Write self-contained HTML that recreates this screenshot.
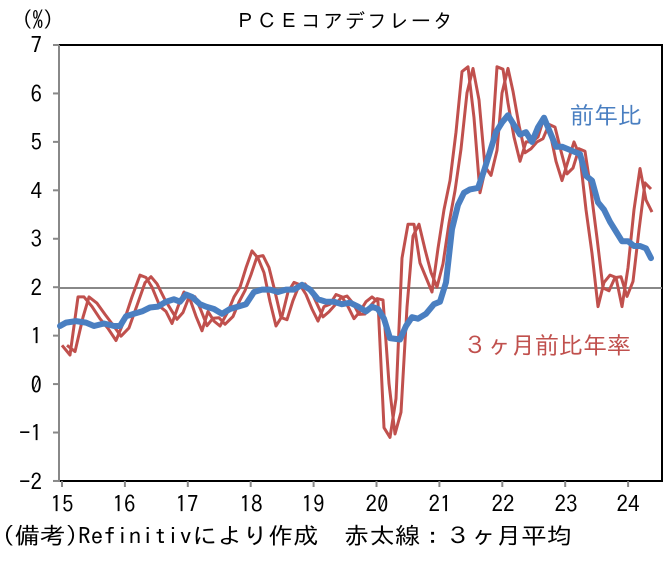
<!DOCTYPE html>
<html><head><meta charset="utf-8"><style>
html,body{margin:0;padding:0;background:#fff;}
svg text{font-family:"IPAGothic","Noto Sans CJK JP",sans-serif;}
</style></head><body>
<svg id="s" width="672" height="559" xmlns="http://www.w3.org/2000/svg">
<rect width="672" height="559" fill="#fff"/>
<text x="22" y="27" font-size="21" fill="#000">(%)</text>
<text x="345" y="28" font-size="20" text-anchor="middle" fill="#000" letter-spacing="2">ＰＣＥコアデフレータ</text>
<g font-size="23" fill="#000" text-anchor="end">
<text x="42" y="53">7</text><text x="42" y="102">6</text><text x="42" y="150">5</text>
<text x="42" y="199">4</text><text x="42" y="247">3</text><text x="42" y="296">2</text>
<text x="42" y="344">1</text><text x="42" y="393">0</text><text x="42" y="441">-1</text>
<text x="42" y="490">-2</text>
</g>
<g font-size="23" fill="#000" text-anchor="middle">
<text x="62" y="512">15</text><text x="124" y="512">16</text><text x="187" y="512">17</text>
<text x="251" y="512">18</text><text x="313" y="512">19</text><text x="377" y="512">20</text>
<text x="440" y="512">21</text><text x="503" y="512">22</text><text x="566" y="512">23</text>
<text x="628" y="512">24</text>
</g>
<rect x="59" y="45" width="603" height="436" fill="none" stroke="#000" stroke-width="2"/>
<line x1="60" y1="288" x2="662" y2="288" stroke="#888" stroke-width="2"/>
<line x1="59" y1="45" x2="59" y2="482" stroke="#888" stroke-width="2"/>
<g id="ticks" stroke="#888" stroke-width="2"></g>
<g id="lines"></g>
<text x="570" y="124" font-size="24" fill="#4a7fc1">前年比</text>
<text x="463" y="354" font-size="24" fill="#c0504d">３ヶ月前比年率</text>
<text x="2" y="544" font-size="23" fill="#000" textLength="570" lengthAdjust="spacingAndGlyphs">(備考)Refinitivにより作成　赤太線：３ヶ月平均</text>
</svg>
<script>
function Y(v){return 45+(7-v)*48.44;}
var t=document.getElementById('ticks'),h='';
for(var v=-2;v<=7;v++)h+='<line x1="53" y1="'+Y(v)+'" x2="59" y2="'+Y(v)+'"/>';
for(var i=0;i<10;i++){var x=62+i*62.9;h+='<line x1="'+x+'" y1="481" x2="'+x+'" y2="487"/>';}
t.innerHTML=h;
var r=[[62,0.8],[70,0.6],[78,1.8],[84,1.8],[92,1.6],[100,1.35],[108,1.15],[116,0.9],[124,1.3],[132,1.8],[140,2.25],[146,2.2],[152,2.0],[160,1.6],[166,1.5],[172,1.25],[178,1.6],[184,1.9],[190,1.75],[196,1.4],[202,1.1],[208,1.5],[214,1.3],[220,1.2],[228,1.5],[234,1.8],[240,2.0],[246,2.4],[252,2.75],[258,2.6],[264,2.3],[270,1.7],[276,1.2],[282,1.4],[288,1.9],[294,2.1],[300,2.05],[306,1.85],[312,1.55],[318,1.3],[324,1.6],[330,1.65],[336,1.85],[342,1.8],[348,1.6],[354,1.35],[360,1.5],[366,1.7],[372,1.8],[378,1.7],[384,-0.9],[390,-1.1],[396,-0.3],[402,2.6],[408,3.3],[414,3.3],[420,2.5],[426,2.2],[432,1.9],[438,2.8],[444,3.6],[450,4.2],[456,5.2],[462,6.45],[468,6.55],[474,5.5],[480,3.95],[486,4.5],[492,5.0],[497,6.55],[503,6.5],[508,5.8],[514,5.1],[520,4.6],[526,5.0],[532,5.0],[538,5.1],[544,5.5],[550,5.2],[556,4.6],[562,4.2],[568,4.6],[574,5.0],[580,4.7],[586,3.6],[592,2.7],[598,1.6],[604,2.1],[610,2.25],[616,2.2],[622,1.6],[628,2.4],[634,3.6],[640,4.45],[646,3.8],[652,3.55]];
var r2=[];for(var i=0;i<r.length;i++){var p=r[Math.max(0,i-1)][1];r2.push([r[i][0]+5,0.35*p+0.65*r[i][1]]);}
r2.pop();
var b=[[60,1.2],[66,1.27],[76,1.3],[86,1.27],[94,1.2],[104,1.25],[114,1.2],[120,1.2],[126,1.4],[134,1.45],[142,1.5],[150,1.58],[158,1.6],[166,1.7],[174,1.75],[180,1.7],[186,1.85],[192,1.8],[200,1.65],[206,1.6],[214,1.55],[222,1.45],[230,1.55],[238,1.6],[246,1.65],[254,1.9],[262,1.95],[270,1.95],[278,1.9],[286,1.95],[294,1.95],[302,2.05],[310,1.95],[318,1.75],[326,1.7],[334,1.7],[342,1.65],[350,1.68],[358,1.6],[366,1.5],[372,1.6],[378,1.55],[384,1.35],[390,0.95],[400,0.92],[406,1.2],[412,1.38],[418,1.35],[426,1.45],[434,1.65],[440,1.7],[446,2.1],[452,3.2],[458,3.7],[464,3.95],[470,4.02],[478,4.05],[484,4.4],[490,4.8],[496,5.2],[502,5.4],[508,5.55],[514,5.35],[520,5.15],[526,5.2],[532,5.0],[538,5.3],[544,5.5],[550,5.2],[556,4.9],[562,4.9],[568,4.85],[574,4.8],[580,4.75],[586,4.3],[592,4.2],[598,3.75],[604,3.6],[610,3.35],[616,3.15],[622,2.95],[628,2.95],[634,2.85],[640,2.85],[646,2.8],[651,2.6]];
function P(a){return a.map(function(p,i){return (i?'L':'M')+p[0].toFixed(1)+','+Y(p[1]).toFixed(1);}).join('');}
document.getElementById('lines').innerHTML=
'<path d="'+P(r2)+'" fill="none" stroke="#c0504d" stroke-width="3" stroke-linejoin="round"/>'+
'<path d="'+P(r)+'" fill="none" stroke="#c0504d" stroke-width="3" stroke-linejoin="round"/>'+
'<path d="'+P(b)+'" fill="none" stroke="#4a7fc1" stroke-width="6" stroke-linejoin="round" stroke-linecap="round"/>';
</script>
</body></html>
